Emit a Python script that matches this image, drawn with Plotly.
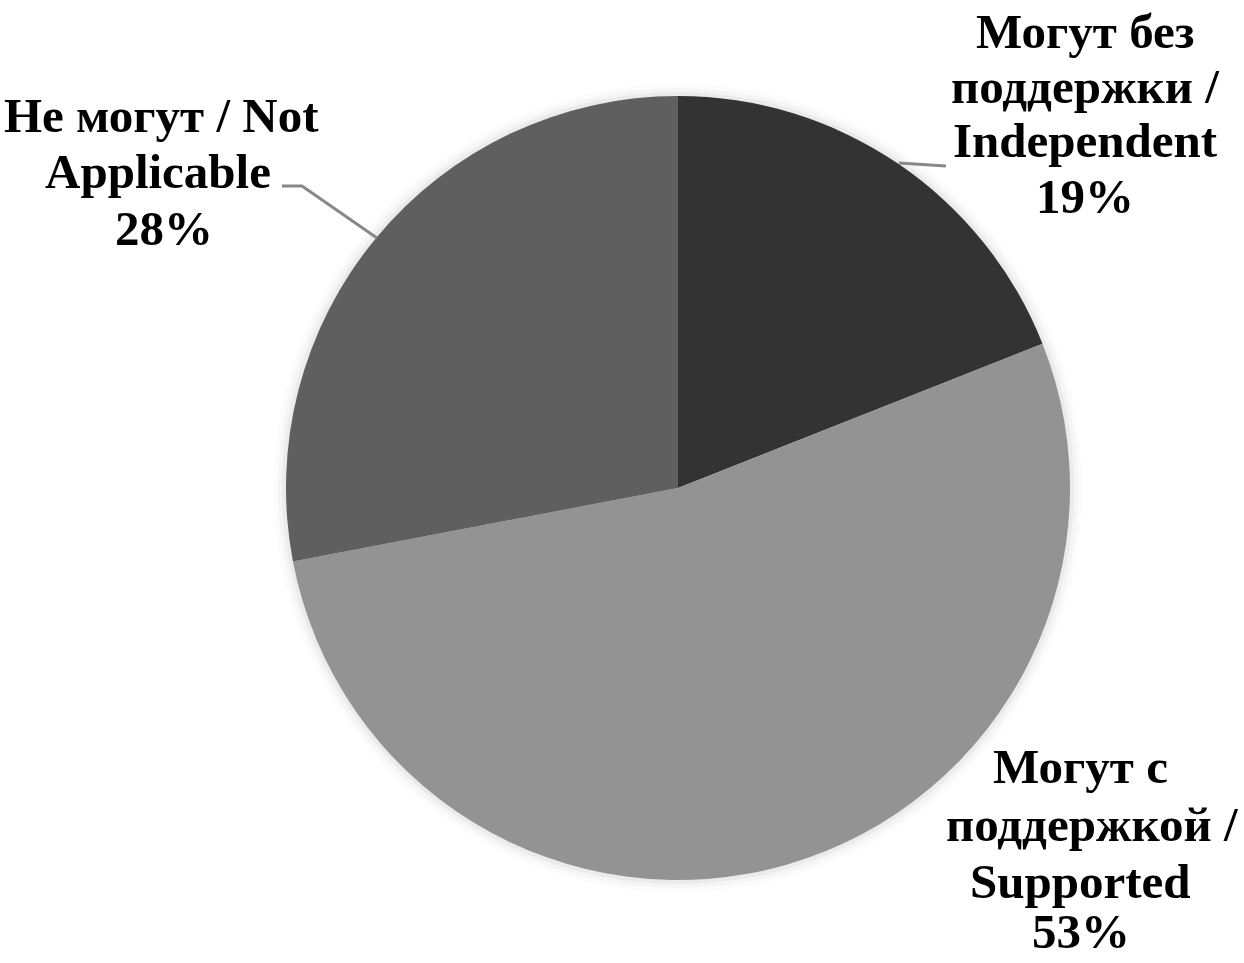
import plotly.graph_objects as go

labels = ["Могут без поддержки / Independent", "Могут с поддержкой / Supported", "Не могут / Not Applicable"]
label_lines = [
    ["Могут без", "поддержки /", "Independent"],
    ["Могут с", "поддержкой /", "Supported"],
    ["Не могут / Not", "Applicable"],
]
values = [19, 53, 28]
colors = ["#333333", "#939393", "#5f5f5f"]

W, H = 1244, 963
OFF = 0  # body margin removed via post_script
cx, cy, r = 678 - OFF, 488 - OFF, 392
FS = 49

# per-line label anchors (centre x, baseline y) in page pixels
line_x = [[1085, 1085, 1085, 1085], [1080, 1092, 1080, 1081], [161, 158, 164]]
line_base = [[48, 103, 157, 213], [783, 841, 898, 948], [132, 188, 245]]

fig = go.Figure()
fig.add_trace(go.Pie(
    labels=labels, values=values, sort=False, direction="clockwise", rotation=0,
    marker=dict(colors=colors, line=dict(width=0)),
    textinfo="none", hoverinfo="label+percent", showlegend=False,
    domain=dict(x=[(cx - r) / W, (cx + r) / W], y=[(H - cy - r) / H, (H - cy + r) / H]),
))

# soft glow around pie
for dr, op in [(12, 0.015), (8, 0.025), (4, 0.04)]:
    fig.add_shape(type="circle", xref="paper", yref="paper", layer="below",
                  x0=(cx - r - dr) / W, x1=(cx + r + dr) / W,
                  y0=(H - cy - r - dr) / H, y1=(H - cy + r + dr) / H,
                  fillcolor=f"rgba(0,0,0,{op})", line=dict(width=0))

font = dict(family="Liberation Serif", size=FS, color="black")

def P(x, y):
    return (x - OFF) / W, 1 - (y - OFF) / H

for lines, v, xs, bs in zip(label_lines, values, line_x, line_base):
    texts = lines + [f"{v}%"]
    for t, x, b in zip(texts, xs, bs):
        px, py = P(x, b - 0.3375 * FS)
        fig.add_annotation(x=px, y=py, xref="paper", yref="paper",
                           text=f"<b>{t}</b>", showarrow=False,
                           xanchor="center", yanchor="middle", font=font)

# leader lines
x0, y0 = P(899, 163); x1, y1 = P(946, 166)
fig.add_shape(type="line", xref="paper", yref="paper", x0=x0, y0=y0, x1=x1, y1=y1,
              line=dict(color="#888888", width=3))
pts = [P(282, 186), P(302, 186), P(377, 238)]
path = "M {} {} L {} {} L {} {}".format(*[c for p in pts for c in p])
fig.add_shape(type="path", xref="paper", yref="paper", path=path,
              line=dict(color="#888888", width=3))

fig.update_layout(width=W, height=H, margin=dict(l=0, r=0, t=0, b=0),
                  paper_bgcolor="white", plot_bgcolor="white")
fig.write_html("out.html", config={"displayModeBar": False},
               post_script="document.body.style.margin='0';")
